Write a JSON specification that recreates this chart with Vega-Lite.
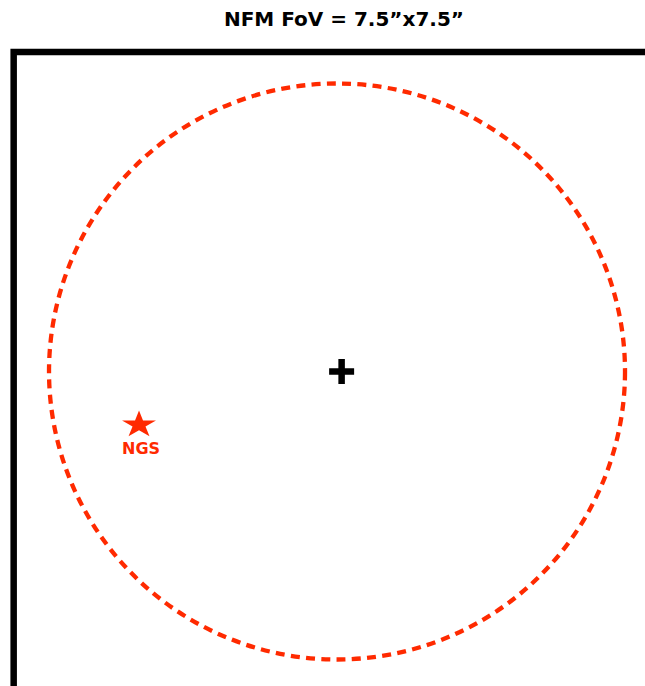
{
  "$schema": "https://vega.github.io/schema/vega-lite/v6.json",
  "width": 645,
  "height": 686,
  "autosize": {"type": "none"},
  "padding": 0,
  "background": "white",
  "config": {"view": {"stroke": null}},
  "datasets": {
    "frame": [{"x": -4.21, "x2": 6.0, "y": 4.16, "y2": -6.0}],
    "fov": [{"x": 0, "y": 0}],
    "center": [{"x": 0.06, "y": 0}],
    "ngs": [{"x": -2.578, "y": -0.694, "lx": -2.552, "ly": -1.074, "label": "NGS"}],
    "title": [{"x": 0.09, "y": 4.5, "text": "NFM FoV = 7.5”x7.5”"}]
  },
  "encoding": {
    "x": {"field": "x", "type": "quantitative", "axis": null, "scale": {"domain": [-4.388, 4.01], "nice": false, "zero": false}},
    "y": {"field": "y", "type": "quantitative", "axis": null, "scale": {"domain": [-4.095, 4.837], "nice": false, "zero": false}}
  },
  "layer": [
    {
      "data": {"name": "frame"},
      "mark": {"type": "rect", "fill": "white", "fillOpacity": 0, "stroke": "black", "strokeWidth": 6.5, "clip": true},
      "encoding": {
        "x2": {"field": "x2"},
        "y2": {"field": "y2"}
      }
    },
    {
      "data": {"name": "fov"},
      "mark": {"type": "point", "shape": "circle", "size": 331776, "filled": false, "color": "#ff2a00", "opacity": 1, "strokeWidth": 4.3, "strokeDash": [9, 6.3]}
    },
    {
      "data": {"name": "center"},
      "mark": {"type": "point", "shape": "M-0.26,-1H0.26V-0.26H1V0.26H0.26V1H-0.26V0.26H-1V-0.26H-0.26Z", "size": 625, "filled": true, "color": "black", "opacity": 1, "strokeWidth": 0}
    },
    {
      "data": {"name": "ngs"},
      "mark": {"type": "point", "shape": "M0,-0.838L0.236,-0.259L1,-0.259L0.382,0.099L0.618,0.678L0,0.32L-0.618,0.678L-0.382,0.099L-1,-0.259L-0.236,-0.259Z", "size": 1150, "filled": true, "color": "#ff2a00", "opacity": 1, "strokeWidth": 0}
    },
    {
      "data": {"name": "ngs"},
      "mark": {"type": "text", "font": "DejaVu Sans", "fontWeight": "bold", "fontSize": 16, "color": "#ff2a00", "align": "center", "baseline": "alphabetic"},
      "encoding": {
        "x": {"field": "lx", "type": "quantitative"},
        "y": {"field": "ly", "type": "quantitative"},
        "text": {"field": "label"}
      }
    },
    {
      "data": {"name": "title"},
      "mark": {"type": "text", "font": "DejaVu Sans", "fontWeight": "bold", "fontSize": 20, "color": "black", "align": "center", "baseline": "alphabetic"},
      "encoding": {
        "text": {"field": "text"}
      }
    }
  ]
}
